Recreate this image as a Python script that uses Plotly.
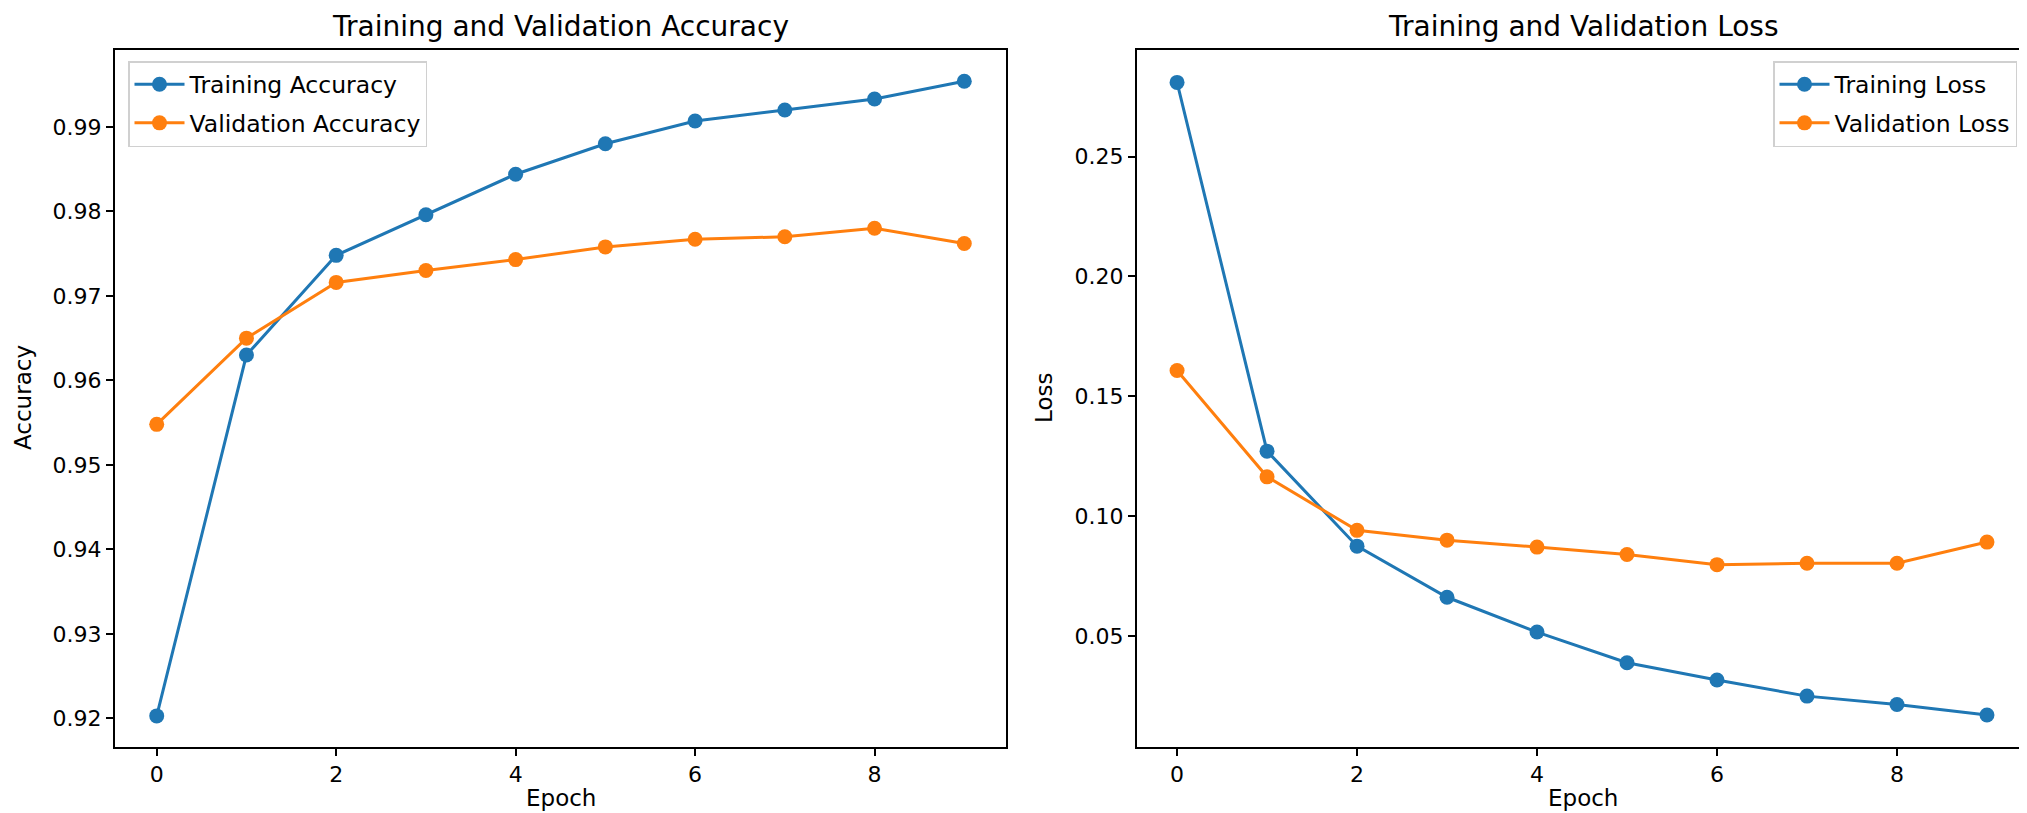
import plotly.graph_objects as go

epochs = [0, 1, 2, 3, 4, 5, 6, 7, 8, 9]
train_acc = [0.9203, 0.9630, 0.9748, 0.9796, 0.9844, 0.9880, 0.9907, 0.9920, 0.9933, 0.9954]
val_acc = [0.9548, 0.9650, 0.9716, 0.9730, 0.9743, 0.9758, 0.9767, 0.9770, 0.9780, 0.9762]
train_loss = [0.2809, 0.1272, 0.0876, 0.0663, 0.0518, 0.0390, 0.0318, 0.0251, 0.0216, 0.0172]
val_loss = [0.1608, 0.1165, 0.0942, 0.0901, 0.0872, 0.0841, 0.0799, 0.0805, 0.0805, 0.0893]

acc_ticks = [0.92, 0.93, 0.94, 0.95, 0.96, 0.97, 0.98, 0.99]
loss_ticks = [0.05, 0.10, 0.15, 0.20, 0.25]
x_ticks = [0, 2, 4, 6, 8]

BLUE = "#1f77b4"
ORANGE = "#ff7f0e"
FONT = "DejaVu Sans"
W, H = 2027, 813

fig = go.Figure()

def add(x, y, name, color, xa, ya, legend):
    fig.add_trace(go.Scatter(
        x=x, y=y, name=name, mode="lines+markers",
        line=dict(color=color, width=3),
        marker=dict(color=color, size=15),
        xaxis=xa, yaxis=ya, legend=legend, legendgroup=name,
    ))

add(epochs, train_acc, "Training Accuracy", BLUE, "x", "y", "legend")
add(epochs, val_acc, "Validation Accuracy", ORANGE, "x", "y", "legend")
add(epochs, train_loss, "Training Loss", BLUE, "x2", "y2", "legend2")
add(epochs, val_loss, "Validation Loss", ORANGE, "x2", "y2", "legend2")

def px_x(p):
    return p / W

def px_y(p):
    return 1 - p / H

top, bottom = 42, 738.5
lx0, lx1 = 107, 998
rx0, rx1 = 1129, 2021

axis_common = dict(
    showline=True, linecolor="black", linewidth=2, mirror=True,
    ticks="outside", ticklen=7, tickwidth=2, tickcolor="black",
    showgrid=False, zeroline=False,
    tickfont=dict(family=FONT, size=22, color="black"),
)

legend_common = dict(
    yanchor="top", bgcolor="white", bordercolor="#d0d0d0", borderwidth=1.5,
    font=dict(family=FONT, size=23.5, color="black"),
    traceorder="grouped", tracegroupgap=5, itemwidth=50,
)

fig.update_layout(
    width=W, height=H,
    margin=dict(l=0, r=0, t=0, b=0),
    paper_bgcolor="white", plot_bgcolor="white",
    font=dict(family=FONT, color="black"),
    xaxis=dict(domain=[px_x(lx0), px_x(lx1)], range=[-0.465, 9.465],
               tickvals=x_ticks, anchor="y", **axis_common),
    yaxis=dict(domain=[px_y(bottom), px_y(top)], range=[0.91668, 0.9991],
               tickvals=acc_ticks, tickformat=".2f", anchor="x", **axis_common),
    xaxis2=dict(domain=[px_x(rx0), px_x(rx1)], range=[-0.445, 9.467],
                tickvals=x_ticks, anchor="y2", **axis_common),
    yaxis2=dict(domain=[px_y(bottom), px_y(top)], range=[0.0041, 0.2944],
                tickvals=loss_ticks, tickformat=".2f", anchor="x2", **axis_common),
    legend=dict(x=px_x(120), y=px_y(53), xanchor="left", **legend_common),
    legend2=dict(x=px_x(2009), y=px_y(53), xanchor="right", **legend_common),
)

annots = [
    dict(text="Training and Validation Accuracy", x=px_x((lx0 + lx1) / 2), y=px_y(18),
         font=dict(size=28)),
    dict(text="Training and Validation Loss", x=px_x((rx0 + rx1) / 2), y=px_y(18),
         font=dict(size=28)),
    dict(text="Epoch", x=px_x((lx0 + lx1) / 2), y=px_y(790), font=dict(size=23)),
    dict(text="Epoch", x=px_x((rx0 + rx1) / 2), y=px_y(790), font=dict(size=23)),
    dict(text="Accuracy", x=px_x(15), y=px_y(390), textangle=-90, font=dict(size=23)),
    dict(text="Loss", x=px_x(1036), y=px_y(390), textangle=-90, font=dict(size=23)),
]
for a in annots:
    fig.add_annotation(xref="paper", yref="paper", showarrow=False,
                       xanchor="center", yanchor="middle",
                       **{k: v for k, v in a.items() if k != "font"},
                       font=dict(family=FONT, color="black", **a["font"]))

fig.write_html("out.html")
